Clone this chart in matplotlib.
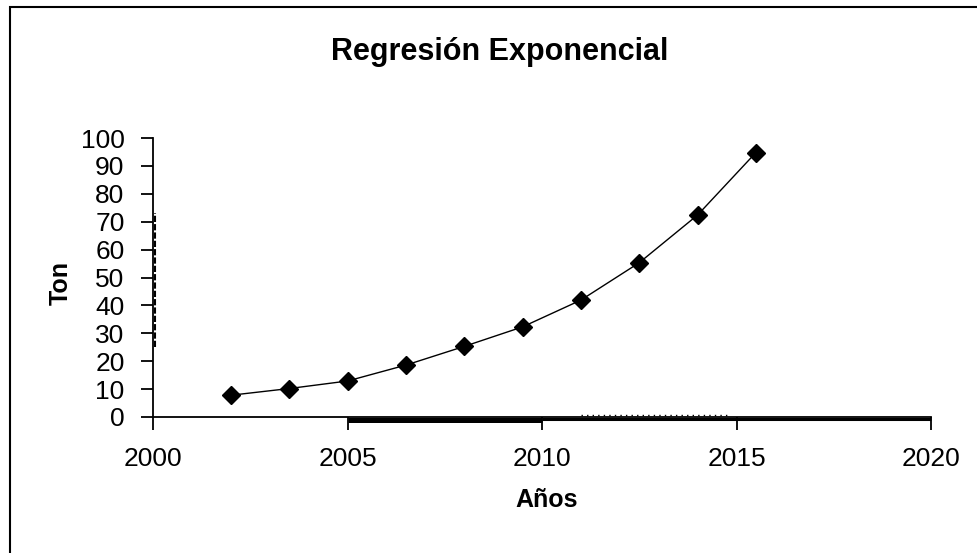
import matplotlib
matplotlib.use("Agg")
import matplotlib.pyplot as plt
from matplotlib.patches import Rectangle

# data
years = [2002.0, 2003.5, 2005.0, 2006.5, 2008.0, 2009.5, 2011.0, 2012.5, 2014.0, 2015.5]
ton = [7.8, 10.2, 12.9, 18.6, 25.3, 32.3, 41.9, 55.3, 72.4, 94.8]
x_ticks = [2000, 2005, 2010, 2015, 2020]
y_ticks = list(range(0, 101, 10))
title = "Regresión Exponencial"
xlabel = "Años"
ylabel = "Ton"

FONT = ['Liberation Sans', 'DejaVu Sans']
plt.rcParams['font.family'] = FONT

fig = plt.figure(figsize=(9.77, 5.53), dpi=100)
ax = fig.add_axes([153/977, 1-417/553, (931-153)/977, (417-138)/553])

ax.plot(years, ton, color='black', lw=1.0, marker='D', ms=9,
        markerfacecolor='black', markeredgecolor='black', zorder=5)

ax.set_xlim(2000, 2020)
ax.set_ylim(0, 100)
ax.set_xticks(x_ticks)
ax.set_yticks(y_ticks)
ax.spines['top'].set_visible(False)
ax.spines['right'].set_visible(False)
for s in ('left', 'bottom'):
    ax.spines[s].set_linewidth(1.3)
    ax.spines[s].set_color('black')
ax.tick_params(axis='y', direction='out', length=8.5, width=1.3, pad=12, labelsize=19)
ax.tick_params(axis='x', direction='out', length=9.5, width=1.3, pad=12, labelsize=19)

# scan artefacts along the axes
ax.plot([2005, 2010], [-0.9, -0.9], color='black', lw=3.6, clip_on=False, solid_capstyle='butt')
ax.plot([2010, 2020], [-0.6, -0.6], color='black', lw=2.2, clip_on=False, solid_capstyle='butt')
ax.plot([2011, 2014.8], [0.7, 0.7], color='black', lw=1.0, ls=(0, (1, 3)), clip_on=False)
ax.plot([2000.06, 2000.06], [25, 73], color='black', lw=1.5, ls=(0, (3, 1)), clip_on=False)

ax.set_xlabel(xlabel, fontsize=18, fontweight='bold')
ax.xaxis.set_label_coords((547-153)/778, -(500-417)/279)
ax.xaxis.label.set_va('center')
ax.set_ylabel(ylabel, fontsize=18, fontweight='bold')
ax.yaxis.set_label_coords(-(153-61)/778, (417-283)/279)
ax.yaxis.label.set_va('center')

fig.text(500/977, 1 - 52/553, title, ha='center', va='center',
         fontsize=22, fontweight='bold')

# outer chart frame (extends beyond the image on right/bottom)
fig.patches.append(Rectangle((10/977, -0.1), 1.2, 1 - 7/553 + 0.1, transform=fig.transFigure,
                             fill=False, edgecolor='black', lw=1.5))

fig.savefig("out.png", dpi=100)
